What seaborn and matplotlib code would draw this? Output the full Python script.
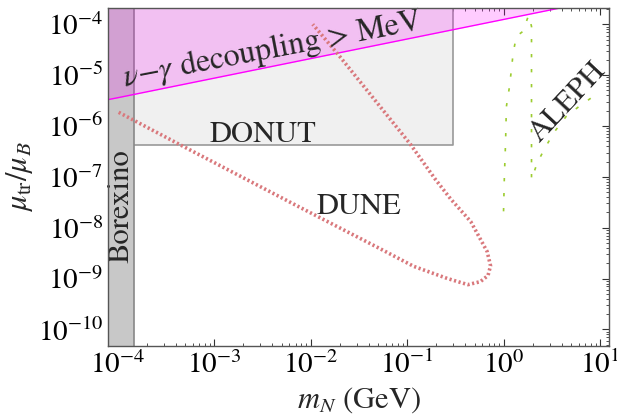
import matplotlib
matplotlib.use("Agg")
import matplotlib.pyplot as plt
import numpy as np
import pandas as pd
import seaborn as sns

# axis limits (GeV, mu_tr / mu_B)
m_lim = [7.9e-5, 12.4]
mu_lim = [4.7e-11, 2.1e-4]

# existing bounds
borexino_m_max = 1.47e-4
donut_m_max = 0.3
donut_mu_min = 4.3e-7
decoupling_m = [7.9e-5, 1.0e-4, 3.9, 12.4]
decoupling_mu = [3.3e-6, 3.6e-6, 2.1e-4, 3.4e-4]

# DUNE sensitivity contour
dune_m = [1.02e-4, 4.4e-4, 7.2e-3, 0.052, 0.117, 0.263, 0.427, 0.575,
          0.69, 0.733, 0.676, 0.457, 0.282, 0.195, 0.107, 0.0191, 0.0105]
dune_mu = [1.86e-6, 4.3e-7, 2.7e-8, 3.9e-9, 1.74e-9, 1.0e-9, 7.6e-10, 8.7e-10,
           1.15e-9, 1.78e-9, 3.4e-9, 1.32e-8, 3.7e-8, 9.1e-8, 4.5e-7, 2.6e-5, 1.0e-4]

# ALEPH contour
aleph_m = [1.0, 1.02, 1.05, 1.07, 1.15, 1.2, 1.26, 1.36, 1.58, 1.82,
           1.95, 1.95, 2.24, 2.75, 3.39, 4.47, 6.03, 8.5]
aleph_mu = [2.1e-8, 1.02e-7, 4.9e-7, 2.4e-6, 5.8e-6, 1.17e-5, 2.8e-5, 5.8e-5, 7.2e-5, 1.5e-4,
            9.1e-5, 8.9e-8, 1.9e-7, 4.0e-7, 7.8e-7, 1.55e-6, 2.4e-6, 3.8e-6]

sns.set_theme(style="ticks")
plt.rcParams["font.family"] = ["STIXGeneral", "DejaVu Serif"]
plt.rcParams["mathtext.fontset"] = "stix"

fig = plt.figure(figsize=(6.17, 4.16), dpi=100)
ax = fig.add_axes([0.175, 0.168, 0.812, 0.813])
ax.set_xscale("log")
ax.set_yscale("log")
ax.set_xlim(m_lim)
ax.set_ylim(mu_lim)

# DONUT box
ax.fill_between([m_lim[0], donut_m_max], donut_mu_min, 1e-2,
                facecolor="#f0f0f0", edgecolor="#999999", linewidth=1.2, zorder=1)
# Borexino band
ax.fill_betweenx([1e-12, 1e-2], m_lim[0], borexino_m_max,
                 facecolor="#c8c8c8", edgecolor="#888888", linewidth=1.2, zorder=2)
# decoupling region
ax.fill_between(decoupling_m, decoupling_mu, 1e-2,
                facecolor="#ff00ff", alpha=0.2, linewidth=0, zorder=3)

dec = pd.DataFrame({"m": decoupling_m, "mu": decoupling_mu})
sns.lineplot(data=dec, x="m", y="mu", color="#ff00ff", linewidth=1.0,
             sort=False, estimator=None, ax=ax, zorder=4)

dune = pd.DataFrame({"m": dune_m, "mu": dune_mu})
sns.lineplot(data=dune, x="m", y="mu", color="#d9787c", linewidth=2.6,
             linestyle=(0, (0.6, 0.7)), sort=False, estimator=None, ax=ax, zorder=5)

aleph = pd.DataFrame({"m": aleph_m, "mu": aleph_mu})
sns.lineplot(data=aleph, x="m", y="mu", color="#9ccc30", linewidth=1.2,
             linestyle=(0, (2, 7)), sort=False, estimator=None, ax=ax, zorder=5)

fs = 22
ax.text(4.0e-3, 3.1e-5, r"$\nu$$-$$\gamma$ decoupling > MeV", fontsize=23,
        rotation=10.8, ha="center", va="center", zorder=6)
ax.text(3.2e-3, 6.6e-7, "DONUT", fontsize=fs, ha="center", va="center", zorder=6)
ax.text(0.032, 2.5e-8, "DUNE", fontsize=fs, ha="center", va="center", zorder=6)
ax.text(1.1e-4, 2.6e-8, "Borexino", fontsize=fs, rotation=90,
        ha="center", va="center", zorder=6)
ax.text(4.7, 2.9e-6, "ALEPH", fontsize=fs, rotation=47,
        ha="center", va="center", zorder=6)

ax.set_xlabel(r"$m_N$ (GeV)", fontsize=fs, labelpad=4)
ax.set_ylabel(r"$\mu_{\rm tr}/\mu_B$", fontsize=fs, labelpad=2)

ax.tick_params(which="both", direction="in", top=True, right=True, colors="#333333",
               labelcolor="black", labelsize=21)
ax.tick_params(which="major", length=5, width=0.8)
ax.tick_params(which="minor", length=2.5, width=0.6)
ax.yaxis.set_major_locator(matplotlib.ticker.LogLocator(base=10, numticks=20))
ax.yaxis.set_minor_locator(matplotlib.ticker.LogLocator(base=10, subs=np.arange(2, 10), numticks=20))
ax.xaxis.set_major_locator(matplotlib.ticker.LogLocator(base=10, numticks=20))
ax.xaxis.set_minor_locator(matplotlib.ticker.LogLocator(base=10, subs=np.arange(2, 10), numticks=20))
ax.yaxis.set_minor_formatter(matplotlib.ticker.NullFormatter())
ax.xaxis.set_minor_formatter(matplotlib.ticker.NullFormatter())
for spine in ax.spines.values():
    spine.set_color("#555555")
    spine.set_linewidth(1.0)
    spine.set_zorder(10)

fig.savefig("out.png", dpi=100)
